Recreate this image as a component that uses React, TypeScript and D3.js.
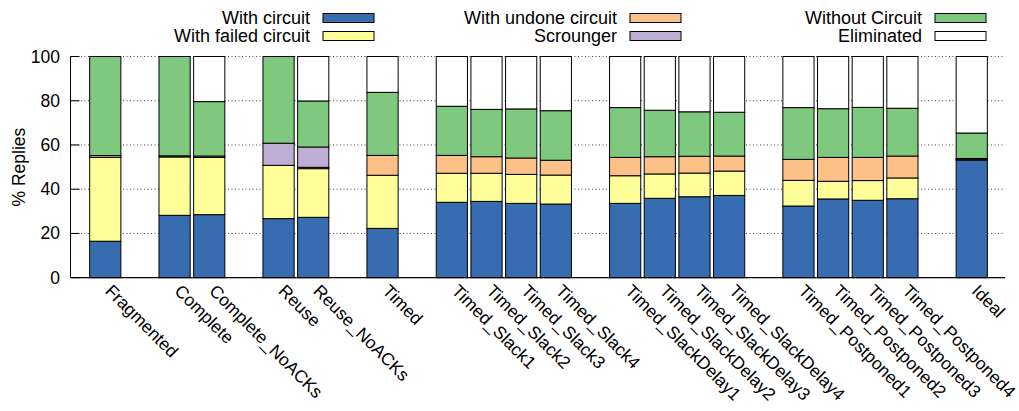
import React from "react";
import * as d3 from "d3";

const groups: string[][] = [
  ["Fragmented"],
  ["Complete", "Complete_NoACKs"],
  ["Reuse", "Reuse_NoACKs"],
  ["Timed"],
  ["Timed_Slack1", "Timed_Slack2", "Timed_Slack3", "Timed_Slack4"],
  ["Timed_SlackDelay1", "Timed_SlackDelay2", "Timed_SlackDelay3", "Timed_SlackDelay4"],
  ["Timed_Postponed1", "Timed_Postponed2", "Timed_Postponed3", "Timed_Postponed4"],
  ["Ideal"],
];

const categories: string[] = groups.flat();

const seriesNames = [
  "With circuit",
  "With failed circuit",
  "With undone circuit",
  "Scrounger",
  "Without Circuit",
  "Eliminated",
];

const withCircuit = [16.5, 28.2, 28.5, 26.7, 27.3, 22.3, 34.1, 34.5, 33.6, 33.3, 33.6, 35.9, 36.6, 37.2, 32.4, 35.6, 35.0, 35.7, 53.1];
const withFailed = [37.9, 26.4, 25.9, 24.1, 22.0, 24.0, 13.1, 12.7, 13.1, 13.1, 12.5, 11.0, 10.7, 11.0, 11.6, 8.0, 8.9, 9.4, 0.3];
const withUndone = [0.8, 0.5, 0.6, 0.0, 0.6, 9.0, 8.1, 7.5, 7.4, 6.7, 8.3, 7.8, 7.6, 6.8, 9.5, 10.8, 10.5, 9.9, 0.5];
const scrounger = [0, 0, 0, 10.0, 9.2, 0, 0, 0, 0, 0, 0, 0, 0, 0, 0, 0, 0, 0, 0];
const withoutCircuit = [44.8, 44.9, 24.6, 39.2, 20.8, 28.5, 22.2, 21.4, 22.2, 22.4, 22.5, 21.0, 20.1, 19.8, 23.4, 22.0, 22.6, 21.6, 11.5];
const eliminated = [0, 0, 20.4, 0, 20.1, 16.2, 22.5, 23.9, 23.7, 24.5, 23.1, 24.3, 25.0, 25.2, 23.1, 23.6, 23.0, 23.4, 34.6];

const yTicks = [0, 20, 40, 60, 80, 100];

const colors = ["#386cb0", "#ffff99", "#fdc086", "#beaed4", "#7fc97f", "#ffffff"];

const W = 1019;
const H = 411;
const FONT = "'Liberation Sans', Arial, Helvetica, sans-serif";

export default function App() {
  // slot index for each category: groups separated by one empty slot
  const slots: number[] = [];
  let s = 0;
  groups.forEach((g) => {
    g.forEach(() => {
      slots.push(s);
      s += 1;
    });
    s += 1;
  });

  const x = d3.scaleLinear().domain([-1, 26]).range([70.6, 1006.4]);
  const y = d3.scaleLinear().domain([0, 100]).range([277.7, 56.5]);
  const barW = x(0.9) - x(0);

  const seriesArrays = [withCircuit, withFailed, withUndone, scrounger, withoutCircuit, eliminated];
  const table = categories.map((c, i) => {
    const row: any = { cat: c };
    seriesNames.forEach((n, k) => (row[n] = seriesArrays[k][i]));
    return row;
  });
  const stacked = d3.stack().keys(seriesNames)(table as any);

  const x0 = 70.5;
  const x1 = 1005;

  const legendCols = [310, 617, 922];
  const legendRows = [18, 36];

  return (
    <svg
      width={W}
      height={H}
      style={{ position: "fixed", left: 0, top: 0, background: "#fff" }}
      fontFamily={FONT}
    >
      <rect x={0} y={0} width={W} height={H} fill="#fff" />
      {/* grid */}
      {yTicks.map((t) => (
        <g key={t}>
          {t > 0 && (
            <line x1={x0} x2={x1} y1={y(t)} y2={y(t)} stroke="#444" strokeWidth={1} strokeDasharray="1,2.5" />
          )}
          <line x1={x0} x2={x0 + 9} y1={y(t)} y2={y(t)} stroke="#000" strokeWidth={1} />
          <text x={60} y={y(t) + 6} textAnchor="end" fontSize={17.5} fill="#000">
            {t}
          </text>
        </g>
      ))}
      {/* bars */}
      {stacked.map((layer, k) =>
        layer.map((d, i) => {
          const h = y(d[0]) - y(d[1]);
          if (h <= 0) return null;
          return (
            <rect
              key={k + "-" + i}
              x={x(slots[i]) - barW / 2}
              y={y(d[1])}
              width={barW}
              height={h}
              fill={colors[k]}
              stroke="#000"
              strokeWidth={1}
            />
          );
        })
      )}
      {/* axes */}
      <line x1={x0} x2={x0} y1={y(100)} y2={y(0)} stroke="#000" strokeWidth={1} />
      <line x1={x0} x2={x1} y1={y(0)} y2={y(0)} stroke="#000" strokeWidth={1.2} />
      {/* x labels */}
      {categories.map((c, i) => {
        const lx = x(slots[i]) - 1;
        const ly = 292;
        return (
          <text
            key={c}
            x={lx}
            y={ly}
            fontSize={17.5}
            textAnchor="start"
            transform={`rotate(45 ${lx} ${ly})`}
            fill="#000"
          >
            {c}
          </text>
        );
      })}
      {/* y label */}
      <text
        x={0}
        y={0}
        transform={`translate(25 ${y(50)}) rotate(-90)`}
        textAnchor="middle"
        fontSize={17.5}
      >
        % Replies
      </text>
      {/* legend */}
      {seriesNames.map((n, k) => {
        const col = Math.floor(k / 2);
        const row = k % 2;
        const tx = legendCols[col];
        const cy = legendRows[row];
        return (
          <g key={n}>
            <text x={tx} y={cy + 6} textAnchor="end" fontSize={18}>
              {n}
            </text>
            <rect x={tx + 13} y={cy - 4.5} width={51} height={9} fill={colors[k]} stroke="#000" strokeWidth={1} />
          </g>
        );
      })}
    </svg>
  );
}
